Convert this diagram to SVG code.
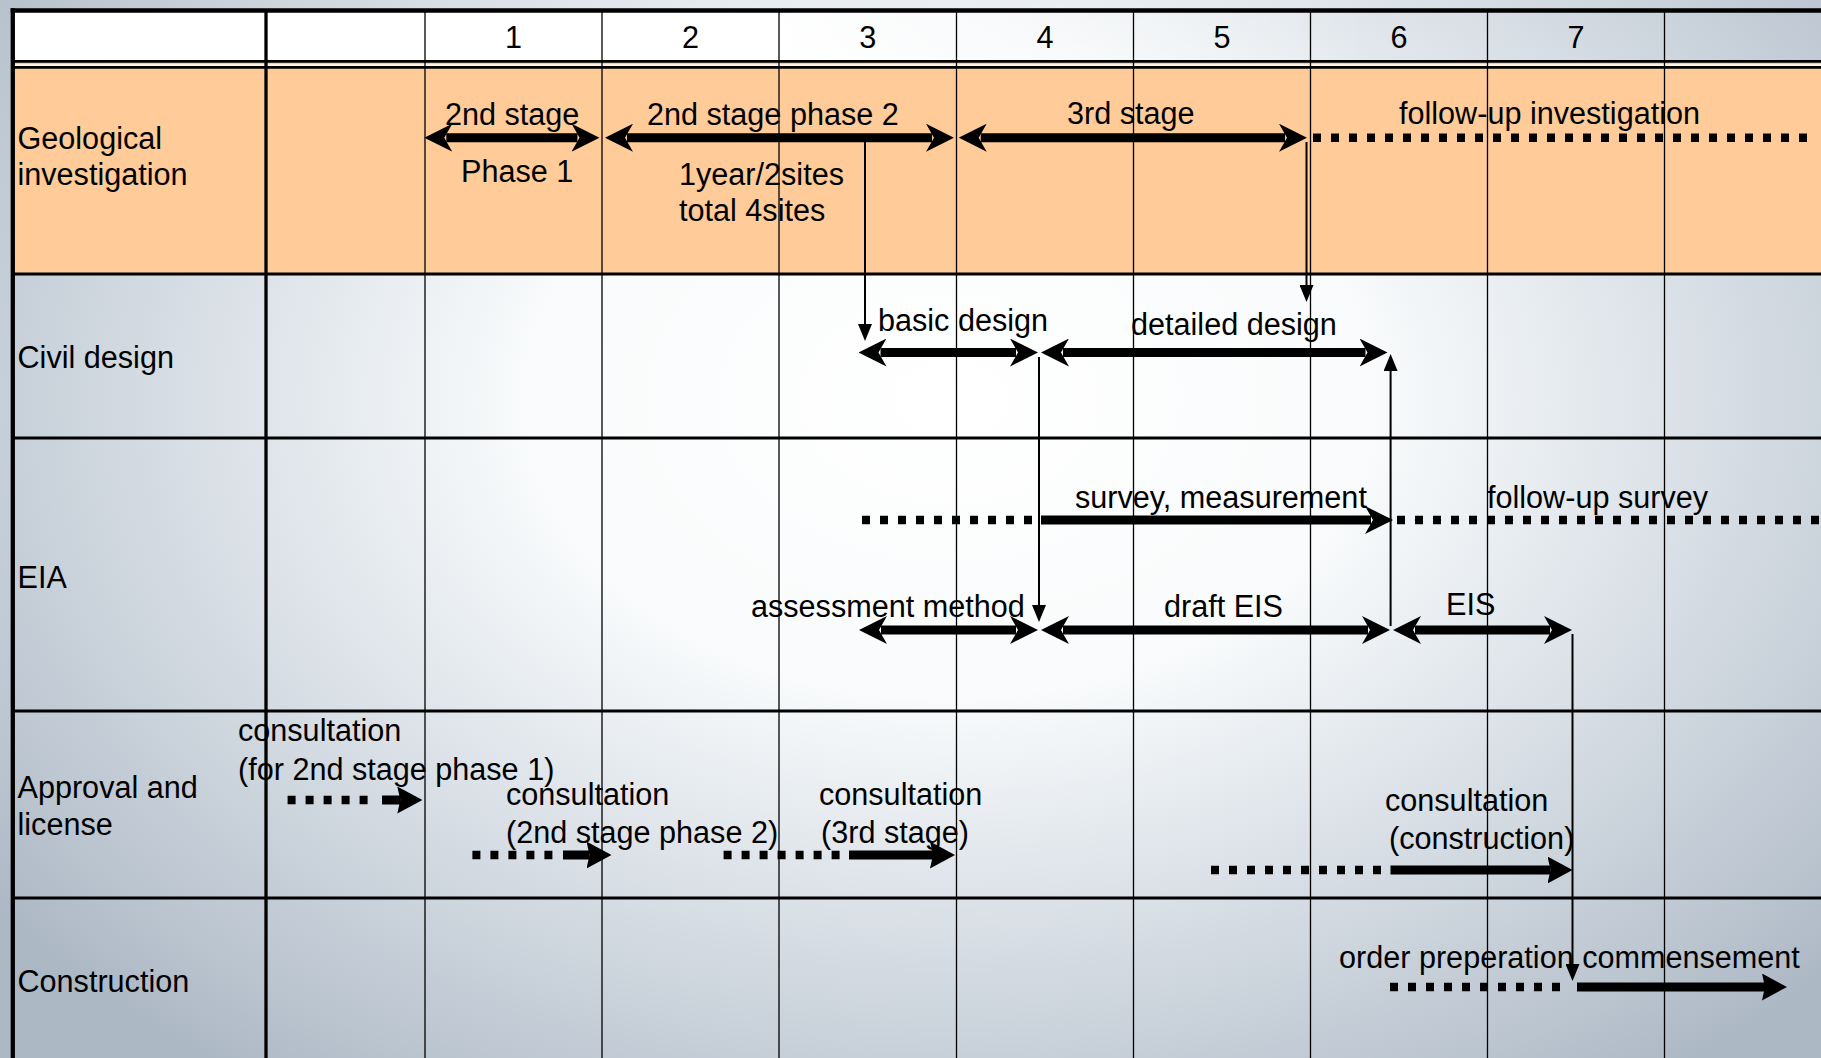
<svg xmlns="http://www.w3.org/2000/svg" width="1821" height="1058" viewBox="0 0 1821 1058">
<style>
text{font-family:"Liberation Sans",Arial,sans-serif;font-size:30.6px;fill:#000}
.mid{text-anchor:middle}
.grid{stroke:#000;fill:none}
.thin{stroke-width:1.3}
.row{stroke-width:3}
.bar{stroke:#000;stroke-width:9;fill:none}
.dot{stroke:#000;stroke-width:8.5;stroke-dasharray:8 10;fill:none}
.link{stroke:#000;stroke-width:2;fill:none}
</style>
<defs>
<radialGradient id="bg" gradientUnits="userSpaceOnUse" cx="950" cy="400" r="1200" gradientTransform="translate(950 400) scale(1 0.7) translate(-950 -400)">
<stop offset="0" stop-color="#ffffff"/>
<stop offset="0.35" stop-color="#f9fbfc"/>
<stop offset="0.65" stop-color="#d6dde4"/>
<stop offset="0.9" stop-color="#bac4cf"/>
<stop offset="1" stop-color="#adb8c5"/>
</radialGradient>
<linearGradient id="hdr" x1="0" y1="0" x2="1" y2="0">
<stop offset="0" stop-color="#ffffff" stop-opacity="1"/>
<stop offset="0.42" stop-color="#ffffff" stop-opacity="1"/>
<stop offset="0.75" stop-color="#ffffff" stop-opacity="0"/>
</linearGradient>
<marker id="barb" viewBox="0 0 28 28" refX="6" refY="14" markerWidth="28" markerHeight="28" markerUnits="userSpaceOnUse" orient="auto-start-reverse">
<path d="M0,0 L28,14 L0,28 L8,14 Z" fill="#000"/>
</marker>
<marker id="tri" viewBox="0 0 25 27" refX="3" refY="13.5" markerWidth="25" markerHeight="27" markerUnits="userSpaceOnUse" orient="auto">
<path d="M0,0 L25,13.5 L0,27 L3,13.5 Z" fill="#000"/>
</marker>
<marker id="thin" viewBox="0 0 17 14" refX="9" refY="7" markerWidth="17" markerHeight="14" markerUnits="userSpaceOnUse" orient="auto">
<path d="M0,0 L17,7 L0,14 Z" fill="#000"/>
</marker>
</defs>

<g id="background">
<rect x="0" y="0" width="1821" height="1058" fill="url(#bg)"/>
<rect x="12" y="12" width="1809" height="49" fill="url(#hdr)"/>
<rect x="12" y="62.5" width="1809" height="211.5" fill="#FFCC99"/>
<rect x="12" y="64.3" width="1809" height="1.6" fill="#ffffff"/>
</g>

<g id="grid" class="grid">
<line x1="10.7" y1="10.5" x2="1821" y2="10.5" stroke-width="4.3"/>
<line x1="12.8" y1="8.3" x2="12.8" y2="1058" stroke-width="4.3"/>
<line x1="12.8" y1="61.3" x2="1821" y2="61.3" stroke-width="2.7"/>
<line x1="12.8" y1="67.3" x2="1821" y2="67.3" stroke-width="2.7"/>
<line class="row" x1="12.8" y1="274" x2="1821" y2="274"/>
<line class="row" x1="12.8" y1="438" x2="1821" y2="438"/>
<line class="row" x1="12.8" y1="711" x2="1821" y2="711"/>
<line class="row" x1="12.8" y1="898" x2="1821" y2="898"/>
<line x1="266" y1="10" x2="266" y2="1058" stroke-width="3.3"/>
<line class="thin" x1="425" y1="10" x2="425" y2="1058"/>
<line class="thin" x1="602" y1="10" x2="602" y2="1058"/>
<line class="thin" x1="779" y1="10" x2="779" y2="1058"/>
<line class="thin" x1="956.5" y1="10" x2="956.5" y2="1058"/>
<line class="thin" x1="1133.5" y1="10" x2="1133.5" y2="1058"/>
<line class="thin" x1="1310.5" y1="10" x2="1310.5" y2="1058"/>
<line class="thin" x1="1487.5" y1="10" x2="1487.5" y2="1058"/>
<line class="thin" x1="1664.5" y1="10" x2="1664.5" y2="1058"/>
</g>

<g id="header">
<text class="mid" x="513.5" y="48">1</text>
<text class="mid" x="690.5" y="48">2</text>
<text class="mid" x="867.7" y="48">3</text>
<text class="mid" x="1045" y="48">4</text>
<text class="mid" x="1222" y="48">5</text>
<text class="mid" x="1399" y="48">6</text>
<text class="mid" x="1576" y="48">7</text>
</g>

<g id="row-geological">
<text x="17.5" y="149">Geological</text>
<text x="17.5" y="185">investigation</text>
<text x="445" y="125">2nd stage</text>
<text x="461" y="182">Phase 1</text>
<text x="647" y="125">2nd stage phase 2</text>
<text x="679" y="185">1year/2sites</text>
<text x="679" y="221">total 4sites</text>
<text x="1067" y="124">3rd stage</text>
<text x="1399" y="124">follow-up investigation</text>
</g>

<g id="row-civil">
<text x="17.5" y="368">Civil design</text>
<text x="878" y="331">basic design</text>
<text x="1131" y="335">detailed design</text>
</g>

<g id="row-eia">
<text x="17.5" y="588">EIA</text>
<text x="1075" y="508">survey, measurement</text>
<text x="1487" y="508">follow-up survey</text>
<text x="751" y="617">assessment method</text>
<text x="1164" y="617">draft EIS</text>
<text x="1446" y="615">EIS</text>
</g>

<g id="row-approval">
<text x="17.5" y="798">Approval and</text>
<text x="17.5" y="835">license</text>
<text x="238" y="741">consultation</text>
<text x="238" y="780">(for 2nd stage phase 1)</text>
<text x="506" y="805">consultation</text>
<text x="506" y="843">(2nd stage phase 2)</text>
<text x="819" y="805">consultation</text>
<text x="821" y="843">(3rd stage)</text>
<text x="1385" y="811">consultation</text>
<text x="1389" y="849">(construction)</text>
</g>

<g id="row-construction">
<text x="17.5" y="992">Construction</text>
<text x="1339" y="968">order preperation commensement</text>
</g>

<g id="connectors">
<line class="bar" x1="446.3" y1="137.7" x2="577.5" y2="137.7" marker-start="url(#barb)" marker-end="url(#barb)"/>
<line class="bar" x1="627" y1="137.7" x2="932" y2="137.7" marker-start="url(#barb)" marker-end="url(#barb)"/>
<line class="bar" x1="980.7" y1="137.7" x2="1285" y2="137.7" marker-start="url(#barb)" marker-end="url(#barb)"/>
<line class="dot" x1="1313" y1="137.7" x2="1807" y2="137.7"/>

<line class="link" x1="865" y1="142" x2="865" y2="333" marker-end="url(#thin)"/>
<line class="link" x1="1306.5" y1="142" x2="1306.5" y2="294" marker-end="url(#thin)"/>

<line class="bar" x1="880.5" y1="352.5" x2="1016" y2="352.5" marker-start="url(#barb)" marker-end="url(#barb)"/>
<line class="bar" x1="1063" y1="352.5" x2="1365.5" y2="352.5" marker-start="url(#barb)" marker-end="url(#barb)"/>

<line class="link" x1="1039" y1="357" x2="1039" y2="614" marker-end="url(#thin)"/>
<line class="link" x1="1390.6" y1="626" x2="1390.6" y2="362" marker-end="url(#thin)"/>

<line class="dot" x1="862" y1="520" x2="1032" y2="520"/>
<line class="bar" x1="1041" y1="520" x2="1371" y2="520" marker-end="url(#barb)"/>
<line class="dot" x1="1397" y1="520" x2="1819" y2="520"/>

<line class="bar" x1="881" y1="630" x2="1016" y2="630" marker-start="url(#barb)" marker-end="url(#barb)"/>
<line class="bar" x1="1063" y1="630" x2="1368" y2="630" marker-start="url(#barb)" marker-end="url(#barb)"/>
<line class="bar" x1="1415" y1="630" x2="1550" y2="630" marker-start="url(#barb)" marker-end="url(#barb)"/>

<line class="link" x1="1572.5" y1="634" x2="1572.5" y2="973" marker-end="url(#thin)"/>

<line class="dot" x1="287.6" y1="800" x2="367.6" y2="800"/>
<line class="bar" x1="382" y1="800" x2="400.3" y2="800" marker-end="url(#tri)"/>
<line class="dot" x1="472.4" y1="855" x2="552.4" y2="855"/>
<line class="bar" x1="563" y1="855" x2="589.5" y2="855" marker-end="url(#tri)"/>
<line class="dot" x1="723.6" y1="855" x2="839.6" y2="855"/>
<line class="bar" x1="849" y1="855" x2="933" y2="855" marker-end="url(#tri)"/>
<line class="dot" x1="1211" y1="870" x2="1381" y2="870"/>
<line class="bar" x1="1390.5" y1="870" x2="1550.5" y2="870" marker-end="url(#tri)"/>

<line class="dot" x1="1390" y1="987" x2="1560" y2="987"/>
<line class="bar" x1="1577" y1="987" x2="1765" y2="987" marker-end="url(#tri)"/>
</g>
</svg>
